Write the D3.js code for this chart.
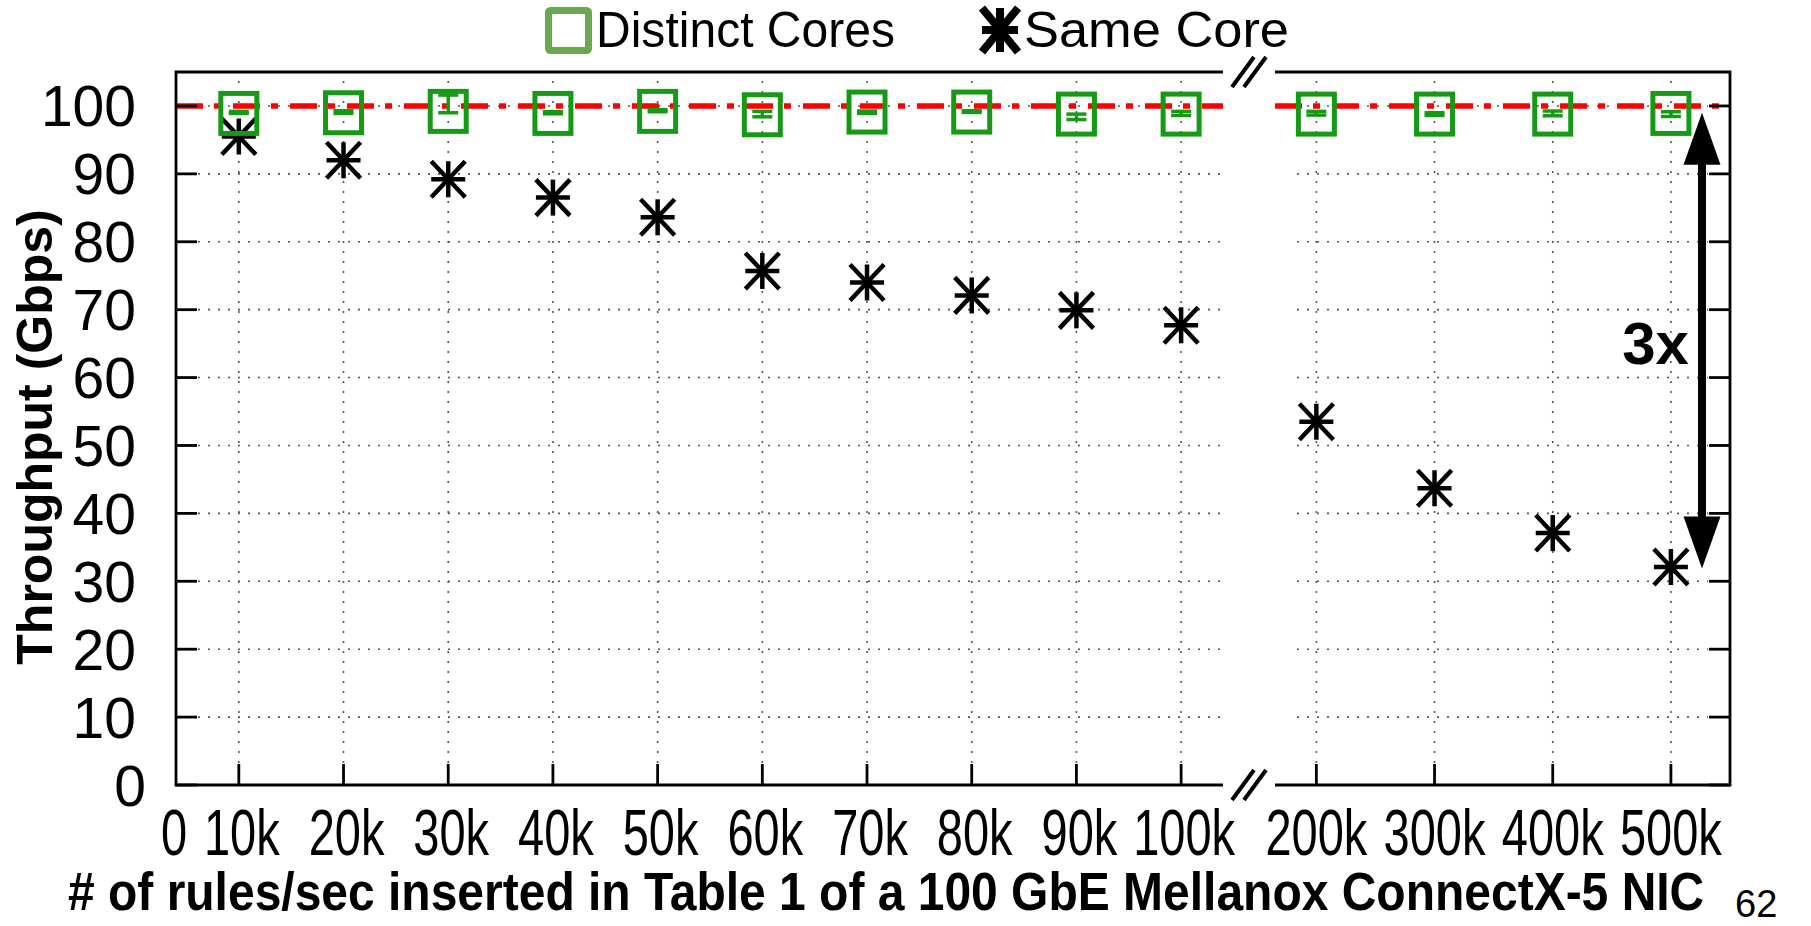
<!DOCTYPE html>
<html>
<head>
<meta charset="utf-8">
<script src="https://cdn.jsdelivr.net/npm/d3@7/dist/d3.min.js"></script>
<style>
  html, body { margin: 0; padding: 0; background: #fff; }
  svg { display: block; font-family: "Liberation Sans", Arial, Helvetica, sans-serif; }
</style>
</head>
<body>
<svg id="chart" width="1811" height="926"></svg>
<script>
// ---- data -------------------------------------------------------------
// insertion rates (thousands of rules/sec), split across the broken axis
const leftRates  = [10, 20, 30, 40, 50, 60, 70, 80, 90, 100];
const rightRates = [200, 300, 400, 500];
const leftLabels  = ["10k", "20k", "30k", "40k", "50k", "60k", "70k", "80k", "90k", "100k"];
const rightLabels = ["200k", "300k", "400k", "500k"];
const originLabel = "0";
const yTicks = [0, 10, 20, 30, 40, 50, 60, 70, 80, 90, 100];

// Throughput (Gbps) with the inserting thread on the same core as the forwarder
const sameCoreLeft  = [95.5, 92.0, 89.2, 86.5, 83.6, 75.7, 74.0, 72.1, 69.9, 67.7];
const sameCoreRight = [53.5, 43.7, 37.1, 32.1];

// Throughput (Gbps) with the inserting thread on a distinct core, with error bars
const distinctLeft      = [98.9, 99.0, 99.2, 98.9, 99.2, 98.7, 99.1, 99.1, 98.8, 98.8];
const distinctLeftLow   = [98.9, 98.9, 99.0, 98.85, 99.15, 98.4, 98.9, 99.05, 98.0, 98.6];
const distinctLeftHigh  = [99.2, 99.3, 101.6, 99.15, 99.45, 99.2, 99.25, 99.3, 98.8, 99.2];
const distinctRight     = [98.8, 98.8, 98.8, 98.9];
const distinctRightLow  = [98.65, 98.6, 98.55, 98.45];
const distinctRightHigh = [99.2, 99.0, 99.25, 99.15];

const lineRate = 100;          // NIC line rate (Gbps)
const arrowFrom = 99.0, arrowTo = 31.9;

// ---- layout -----------------------------------------------------------
const svg = d3.select("#chart");
const L = 176, R = 1730, T = 72, B = 785;
const gapL = 1223, gapR = 1275;

const y  = d3.scaleLinear().domain([0, 105]).range([B, T]);
const xL = d3.scaleLinear().domain([4, 104]).range([L, gapL]);
const xR = d3.scaleLinear().domain([165, 550]).range([gapR, R]);

const green = "#169a16";

// ---- grid -------------------------------------------------------------
const grid = svg.append("g")
  .attr("stroke", "#555").attr("stroke-width", 1.6).attr("stroke-dasharray", "2,8");
[[L, gapL], [gapR, R]].forEach(([a, b]) => {
  grid.selectAll(null).data(yTicks.filter(v => v > 0)).enter().append("line")
    .attr("x1", a + 22).attr("x2", b - (b === R ? 22 : 0))
    .attr("y1", d => y(d)).attr("y2", d => y(d));
});
grid.selectAll(null).data(leftRates).enter().append("line")
  .attr("x1", d => xL(d)).attr("x2", d => xL(d)).attr("y1", B - 22).attr("y2", T + 4);
grid.selectAll(null).data(rightRates).enter().append("line")
  .attr("x1", d => xR(d)).attr("x2", d => xR(d)).attr("y1", B - 22).attr("y2", T + 4);

// ---- line-rate reference ---------------------------------------------
const ref = svg.append("g").attr("stroke", "#ff0000").attr("stroke-width", 5.5)
  .attr("stroke-dasharray", "27,11,7,12");
ref.append("line").attr("x1", L).attr("x2", gapL).attr("y1", y(lineRate)).attr("y2", y(lineRate));
ref.append("line").attr("x1", gapR).attr("x2", R - 8).attr("y1", y(lineRate)).attr("y2", y(lineRate));

// ---- border with axis break ------------------------------------------
const border = svg.append("g").attr("stroke", "#000").attr("stroke-width", 2.8).attr("fill", "none");
border.append("path").attr("d", `M${gapL},${T}H${L}V${B}H${gapL}`);
border.append("path").attr("d", `M${gapR},${T}H${R}V${B}H${gapR}`);
[T, B].forEach(yy => {
  const cx = (gapL + gapR) / 2;
  [-6, 6].forEach(off => {
    svg.append("line")
      .attr("x1", cx + off - 11).attr("y1", yy + 15)
      .attr("x2", cx + off + 11).attr("y2", yy - 15)
      .attr("stroke", "#000").attr("stroke-width", 4);
  });
});

// ---- ticks ------------------------------------------------------------
const ticks = svg.append("g").attr("stroke", "#000").attr("stroke-width", 2.8);
ticks.selectAll(null).data(yTicks).enter().append("line")
  .attr("x1", L).attr("x2", L + 21).attr("y1", d => y(d)).attr("y2", d => y(d));
ticks.selectAll(null).data(yTicks).enter().append("line")
  .attr("x1", R - 21).attr("x2", R).attr("y1", d => y(d)).attr("y2", d => y(d));
ticks.selectAll(null).data(leftRates).enter().append("line")
  .attr("x1", d => xL(d)).attr("x2", d => xL(d)).attr("y1", B).attr("y2", B - 21);
ticks.selectAll(null).data(rightRates).enter().append("line")
  .attr("x1", d => xR(d)).attr("x2", d => xR(d)).attr("y1", B).attr("y2", B - 21);

// ---- tick labels ------------------------------------------------------
svg.append("g").selectAll(null).data(yTicks).enter().append("text")
  .attr("x", d => d === 0 ? 146 : 136).attr("y", d => y(d)).attr("dy", "0.36em")
  .attr("text-anchor", "end").attr("font-size", 57)
  .text(d => d);

// x labels are drawn tall and narrow
const xLab = svg.append("g").attr("font-size", 47).attr("text-anchor", "middle");
const tall = (x) => `translate(${x},855) scale(1,1.36)`;
xLab.append("text").attr("transform", tall(xL.range()[0] - 2)).text(originLabel);
xLab.selectAll(null).data(leftRates).enter().append("text")
  .attr("transform", d => tall(xL(d) + 3)).text((d, i) => leftLabels[i]);
xLab.selectAll(null).data(rightRates).enter().append("text")
  .attr("transform", d => tall(xR(d))).text((d, i) => rightLabels[i]);

// ---- axis titles ------------------------------------------------------
svg.append("text")
  .attr("transform", "translate(68,910) scale(1,1.1)")
  .attr("font-size", 48).attr("font-weight", "bold")
  .text("# of rules/sec inserted in Table 1 of a 100 GbE Mellanox ConnectX-5 NIC");

svg.append("text")
  .attr("transform", "translate(52,437) rotate(-90)")
  .attr("text-anchor", "middle")
  .attr("font-size", 50).attr("font-weight", "bold")
  .text("Throughput (Gbps)");

svg.append("text").attr("x", 1735).attr("y", 917)
  .attr("font-size", 38).text("62");

// ---- series: same core (asterisks) ------------------------------------
function asterisk(g, cx, cy, w, h, sw) {
  const s = g.append("g").attr("stroke", "#000").attr("stroke-width", sw);
  s.append("line").attr("x1", cx - w / 2).attr("x2", cx + w / 2).attr("y1", cy).attr("y2", cy);
  s.append("line").attr("x1", cx).attr("x2", cx).attr("y1", cy - h / 2).attr("y2", cy + h / 2);
  s.append("line").attr("x1", cx - w / 2).attr("x2", cx + w / 2).attr("y1", cy - h / 2).attr("y2", cy + h / 2);
  s.append("line").attr("x1", cx - w / 2).attr("x2", cx + w / 2).attr("y1", cy + h / 2).attr("y2", cy - h / 2);
}
const same = svg.append("g");
leftRates.forEach((r, i) => asterisk(same, xL(r), y(sameCoreLeft[i]), 34, 36, 4.5));
rightRates.forEach((r, i) => asterisk(same, xR(r), y(sameCoreRight[i]), 34, 36, 4.5));

// ---- series: distinct cores (squares + error bars) ---------------------
const dist = svg.append("g").attr("stroke", green).attr("fill", "none");
function distinctPoint(cx, v, lo, hi) {
  const e = dist.append("g").attr("stroke-width", 3.5);
  e.append("line").attr("x1", cx).attr("x2", cx).attr("y1", y(lo)).attr("y2", y(hi));
  e.append("line").attr("x1", cx - 10).attr("x2", cx + 10).attr("y1", y(lo)).attr("y2", y(lo));
  e.append("line").attr("x1", cx - 10).attr("x2", cx + 10).attr("y1", y(hi)).attr("y2", y(hi));
  dist.append("rect").attr("x", cx - 18).attr("y", y(v) - 20).attr("width", 36).attr("height", 40)
    .attr("stroke-width", 5);
}
leftRates.forEach((r, i) => distinctPoint(xL(r), distinctLeft[i], distinctLeftLow[i], distinctLeftHigh[i]));
rightRates.forEach((r, i) => distinctPoint(xR(r), distinctRight[i], distinctRightLow[i], distinctRightHigh[i]));

// ---- 3x annotation arrow ----------------------------------------------
const ax = 1702, head = 52, hw = 18.5, sw = 4;
const yTop = y(arrowFrom), yBot = y(arrowTo);
svg.append("path").attr("fill", "#000").attr("d",
  `M${ax},${yTop} L${ax + hw},${yTop + head} L${ax + sw},${yTop + head} L${ax + sw},${yBot - head}` +
  ` L${ax + hw},${yBot - head} L${ax},${yBot} L${ax - hw},${yBot - head} L${ax - sw},${yBot - head}` +
  ` L${ax - sw},${yTop + head} L${ax - hw},${yTop + head} Z`);
svg.append("text").attr("x", 1689).attr("y", 364).attr("text-anchor", "end")
  .attr("font-size", 60).attr("font-weight", "bold").text("3x");

// ---- legend -----------------------------------------------------------
const leg = svg.append("g");
leg.append("rect").attr("x", 548.5).attr("y", 10.5).attr("width", 40).attr("height", 40)
  .attr("rx", 2).attr("fill", "none").attr("stroke", "#6aa850").attr("stroke-width", 7);
leg.append("text").attr("transform", "translate(596,47) scale(1,1.05)").attr("font-size", 47)
  .attr("textLength", 299).attr("lengthAdjust", "spacingAndGlyphs").text("Distinct Cores");
asterisk(leg, 1000, 30, 36, 44, 8);
leg.append("text").attr("transform", "translate(1024,47) scale(1,1.05)").attr("font-size", 47)
  .attr("textLength", 265).attr("lengthAdjust", "spacingAndGlyphs").text("Same Core");
</script>
</body>
</html>
